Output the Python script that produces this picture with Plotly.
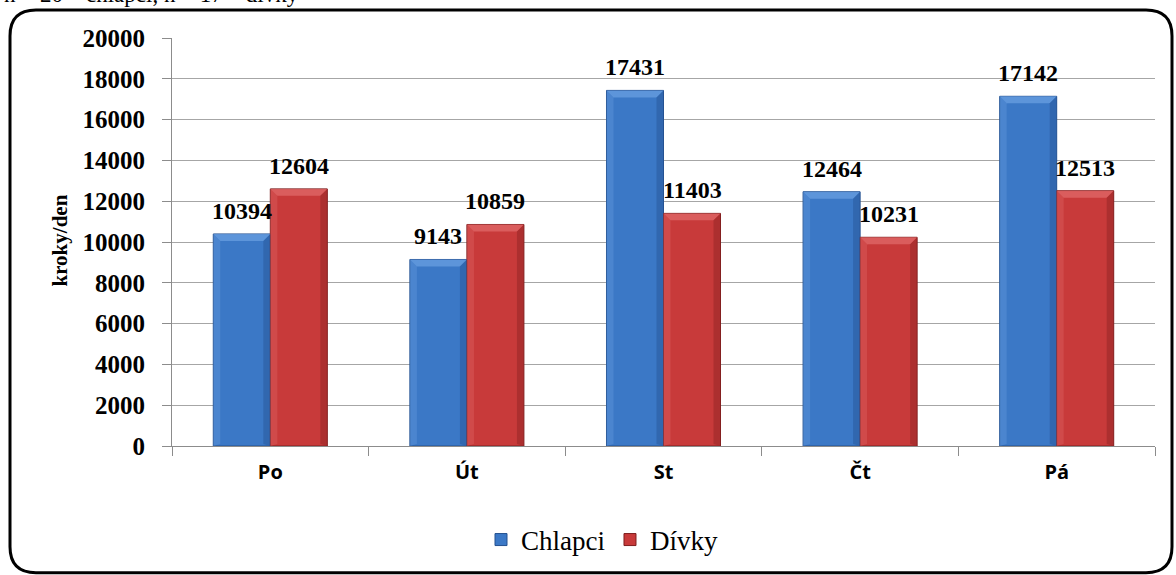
import plotly.graph_objects as go

# Průměrný počet kroků za den podle dne v týdnu
dny = ["Po", "Út", "St", "Čt", "Pá"]
chlapci = [10394, 9143, 17431, 12464, 17142]
divky = [12604, 10859, 11403, 10231, 12513]
y_ticks = list(range(0, 20001, 2000))

W, H = 1176, 575
L, R, T, B = 172, 21, 38, 128
PW, PH = W - L - R, H - T - B
Y_MAX = 20000
BARGAP = 0.42
bar_w = (1 - BARGAP) / 2          # bar width in category units
half = bar_w / 2                  # offset of each bar centre from the category centre

BLUE = dict(main="#3b78c6", light="#6a9fe0", dark="#2a5a9c", edge="#24508f")
RED = dict(main="#c83a3a", light="#e06a6a", dark="#962727", edge="#7e1e1e")


def px_x(p):
    return (p - L) / PW


def px_y(p):
    return (H - B - p) / PH


fig = go.Figure()
fig.add_trace(go.Bar(x=dny, y=chlapci, name="Chlapci",
                     marker=dict(color=BLUE["main"], line=dict(color=BLUE["edge"], width=1))))
fig.add_trace(go.Bar(x=dny, y=divky, name="Dívky",
                     marker=dict(color=RED["main"], line=dict(color=RED["edge"], width=1))))

# bevelled look of the bars: light top facet, darker right facet
bev_x = 7 / (PW / len(dny))
bev_y = 7 * Y_MAX / PH
shapes = []
for i, (c, d) in enumerate(zip(chlapci, divky)):
    for off, v, pal in ((-half, c, BLUE), (half, d, RED)):
        xl, xr = i + off - half, i + off + half
        shapes.append(dict(type="path", xref="x", yref="y", layer="above", line=dict(width=0),
                           fillcolor=pal["light"], opacity=0.75,
                           path=f"M {xl} {v} L {xr} {v} L {xr - bev_x} {v - bev_y} "
                                f"L {xl + bev_x} {v - bev_y} Z"))
        shapes.append(dict(type="path", xref="x", yref="y", layer="above", line=dict(width=0),
                           fillcolor=pal["dark"], opacity=0.55,
                           path=f"M {xr} {v} L {xr} 0 L {xr - bev_x} {bev_y * 0.3} "
                                f"L {xr - bev_x} {v - bev_y} Z"))
        shapes.append(dict(type="path", xref="x", yref="y", layer="above", line=dict(width=0),
                           fillcolor=pal["light"], opacity=0.35,
                           path=f"M {xl} {v} L {xl} 0 L {xl + bev_x} {bev_y * 0.3} "
                                f"L {xl + bev_x} {v - bev_y} Z"))

label_font = dict(family="Liberation Serif", size=24, color="black")
annotations = []
for i, (c, d) in enumerate(zip(chlapci, divky)):
    for off, v in ((-half, c), (half, d)):
        annotations.append(dict(x=i + off, y=v, xref="x", yref="y", text=f"<b>{v}</b>",
                                showarrow=False, yanchor="bottom", yshift=8, font=label_font))

# y-axis title
annotations.append(dict(x=px_x(46), y=px_y(241), xref="paper", yref="paper",
                        text="<b>kroky/den</b>", textangle=-90, showarrow=False,
                        font=dict(family="Liberation Serif", size=21, color="black")))
# heading line above the frame
annotations.append(dict(x=px_x(2), y=px_y(9), xref="paper", yref="paper",
                        xanchor="left", yanchor="bottom", showarrow=False,
                        text="n = 20 – chlapci, n = 17 – dívky",
                        font=dict(family="Liberation Serif", size=23, color="black")))

# rounded outer frame
x0, x1, y0, y1, r = 10, 1172, 10, 574, 26
frame = (f"M {px_x(x0 + r)} {px_y(y0)} L {px_x(x1 - r)} {px_y(y0)} "
         f"Q {px_x(x1)} {px_y(y0)} {px_x(x1)} {px_y(y0 + r)} "
         f"L {px_x(x1)} {px_y(y1 - r)} Q {px_x(x1)} {px_y(y1)} {px_x(x1 - r)} {px_y(y1)} "
         f"L {px_x(x0 + r)} {px_y(y1)} Q {px_x(x0)} {px_y(y1)} {px_x(x0)} {px_y(y1 - r)} "
         f"L {px_x(x0)} {px_y(y0 + r)} Q {px_x(x0)} {px_y(y0)} {px_x(x0 + r)} {px_y(y0)} Z")
shapes.append(dict(type="path", path=frame, xref="paper", yref="paper",
                   line=dict(color="black", width=3), layer="above"))

fig.update_layout(
    width=W, height=H,
    margin=dict(l=L, r=R, t=T, b=B, pad=0),
    paper_bgcolor="white", plot_bgcolor="white",
    barmode="group", bargap=BARGAP, bargroupgap=0,
    annotations=annotations,
    shapes=shapes,
    legend=dict(orientation="h", x=px_x(602), y=px_y(540), xanchor="center", yanchor="middle",
                font=dict(family="Liberation Serif", size=27, color="black"),
                itemwidth=30, tracegroupgap=0),
    xaxis=dict(showline=True, linecolor="#8c8c8c", linewidth=1,
               ticks="outside", tickson="boundaries", ticklen=9, tickcolor="#8c8c8c",
               ticklabelstandoff=8,
               tickfont=dict(family="Open Sans", size=20, color="black", weight="bold")),
    yaxis=dict(range=[0, Y_MAX], tickvals=y_ticks, tickformat="d", showgrid=True,
               gridcolor="#a6a6a6", gridwidth=1, showline=True, linecolor="#8c8c8c",
               linewidth=1, ticks="outside", ticklen=9, tickcolor="#8c8c8c",
               ticklabelstandoff=12, zeroline=False,
               tickfont=dict(family="Liberation Serif", size=25, color="black", weight="bold")),
)

fig.write_html("out.html")
